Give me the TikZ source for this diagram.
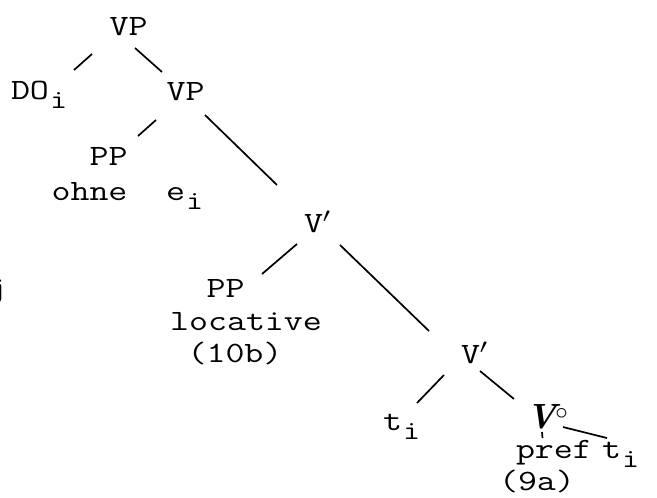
\documentclass[tikz,border=0pt]{standalone}
\usepackage{graphicx}
\usetikzlibrary{calc}
\newcommand{\tx}[1]{\scalebox{1.25}[1]{\fontsize{29.5}{32}\selectfont\ttfamily #1}}
\newcommand{\sbi}{\kern1pt\raisebox{-9pt}{\scalebox{0.9}{i}}}
\newcommand{\vdeg}{{\fontsize{35}{35}\selectfont\bfseries\itshape V}\kern-1pt\raisebox{9pt}{\fontsize{34}{34}\selectfont$\circ$}}
\begin{document}
\begin{tikzpicture}[x=1pt,y=-1pt,
  lbl/.style={inner sep=0pt, outer sep=0pt, anchor=base},
  edge/.style={line width=1.7pt}]
\useasboundingbox (0,0) rectangle (657,498);
\node[lbl] (vp1) at (128.5,35) {\tx{VP}};
\node[lbl, anchor=base west] (do) at (11,99) {\tx{DO\sbi}};
\node[lbl] (vp2) at (185.5,100) {\tx{VP}};
\node[lbl] (pp1) at (108.5,165) {\tx{PP}};
\node[lbl] (ohne) at (89.5,200) {\tx{ohne}};
\node[lbl, anchor=base west] (ei) at (166,200) {\tx{e\sbi}};
\node[lbl, anchor=base west] (v1) at (304,232) {\tx{V$'$}};
\node[lbl] (pp2) at (225.5,297) {\tx{PP}};
\node[lbl] (loc) at (246,330) {\tx{locative}};
\node[lbl] (ex10b) at (235,362) {\tx{(10b)}};
\node[lbl, anchor=base west] (v2) at (461,363) {\tx{V$'$}};
\node[lbl, anchor=base west] (ti1) at (383,430) {\tx{t\sbi}};
\node[lbl, anchor=base west] (vo) at (526,428) {\vdeg};
\node[lbl, anchor=base west] (pref) at (516,458) {\tx{pref}};
\node[lbl, anchor=base west] (ti2) at (602,458) {\tx{t\sbi}};
\node[lbl] (ex9a) at (537,490) {\tx{(9a)}};
\node[lbl, anchor=base west] (j) at (-12,297) {\tx{j}};
% connectors
\draw[edge] ($(vp1.base)+(-36.5,19)$) -- ($(vp1.base)+(-54.5,35)$);
\draw[edge] ($(vp1.base)+(6.5,13)$) -- ($(vp1.base)+(33.5,37)$);
\draw[edge] ($(vp2.base)+(-29.5,20)$) -- ($(vp2.base)+(-47.5,36)$);
\draw[edge] ($(vp2.base)+(19.5,15)$) -- ($(vp2.base)+(91.5,85)$);
\draw[edge] ($(v1.base west)+(-7,12)$) -- ($(v1.base west)+(-42,42)$);
\draw[edge] ($(v1.base west)+(36,13)$) -- ($(v1.base west)+(125,99)$);
\draw[edge] ($(v2.base west)+(-17,12)$) -- ($(v2.base west)+(-44,40)$);
\draw[edge] ($(v2.base west)+(19,8)$) -- ($(v2.base west)+(53,36)$);
\draw[edge] ($(vo.base west)+(16,4)$) -- ($(vo.base west)+(16.5,10)$);
\draw[edge] ($(vo.base west)+(37,-1)$) -- ($(vo.base west)+(81,10)$);
\end{tikzpicture}
\end{document}
